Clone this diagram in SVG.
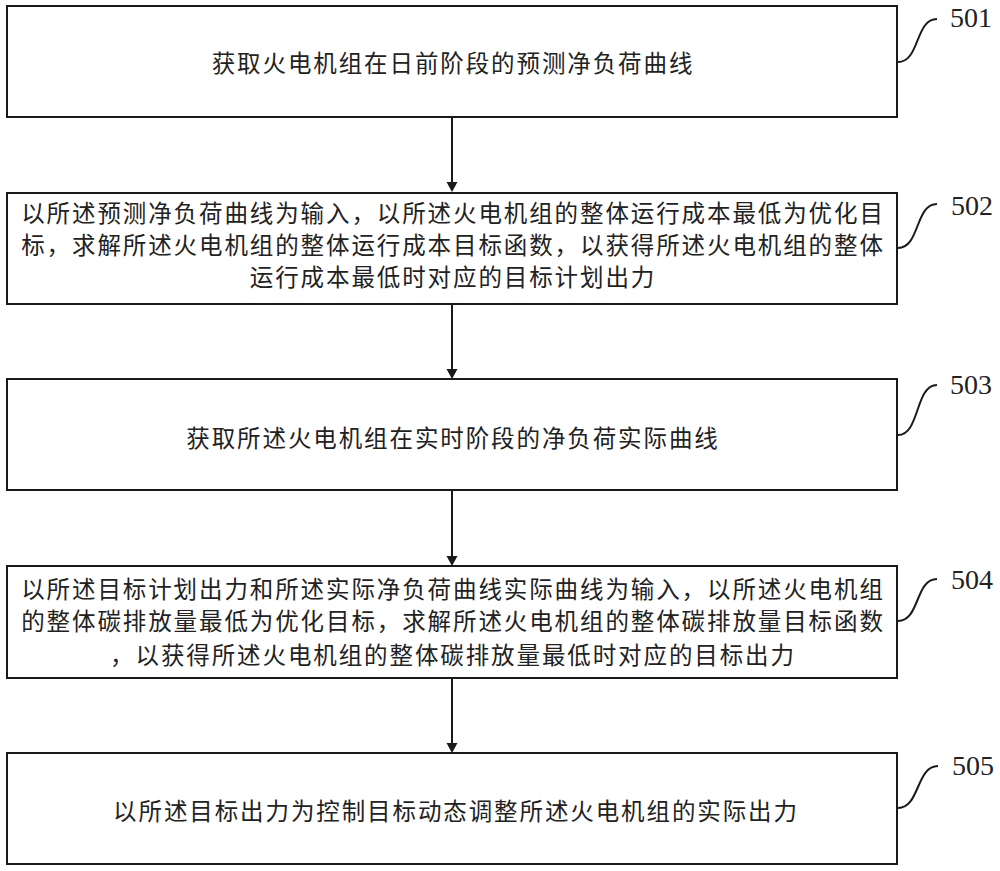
<svg xmlns="http://www.w3.org/2000/svg" width="1000" height="871" viewBox="0 0 1000 871">
<style>
.box{fill:#fff;stroke:#1a1a1a;stroke-width:2}
.t{font-family:"Noto Sans CJK SC","Noto Sans CJK JP",sans-serif;font-size:23.5px;letter-spacing:1.9px;fill:#222;text-anchor:middle;dominant-baseline:central}
.lbl{font-family:"Liberation Serif",serif;font-size:28px;fill:#222}
.lead{fill:none;stroke:#1a1a1a;stroke-width:2}
.conn{stroke:#1a1a1a;stroke-width:2;fill:none}
.head{fill:#1a1a1a}
</style>
<rect width="1000" height="871" fill="#fff"/>
<g id="connectors">
<line class="conn" x1="452" y1="117" x2="452" y2="183"/>
<path class="head" d="M446.5,182 L457.5,182 L452,192 Z"/>
<line class="conn" x1="452" y1="304" x2="452" y2="370"/>
<path class="head" d="M446.5,369 L457.5,369 L452,379 Z"/>
<line class="conn" x1="452" y1="490" x2="452" y2="557"/>
<path class="head" d="M446.5,556 L457.5,556 L452,566 Z"/>
<line class="conn" x1="452" y1="678" x2="452" y2="744"/>
<path class="head" d="M446.5,743 L457.5,743 L452,753 Z"/>
</g>
<g id="node501">
<rect class="box" x="7" y="6" width="890" height="111"/>
<text class="t" x="453" y="62">获取火电机组在日前阶段的预测净负荷曲线</text>
<path class="lead" d="M898,62 C920,62 915,19 937,19"/>
<text class="lbl" x="950" y="27">501</text>
</g>
<g id="node502">
<rect class="box" x="7" y="193" width="890" height="111"/>
<text class="t" x="453" y="212">以所述预测净负荷曲线为输入，以所述火电机组的整体运行成本最低为优化目</text>
<text class="t" x="453" y="244">标，求解所述火电机组的整体运行成本目标函数，以获得所述火电机组的整体</text>
<text class="t" x="453" y="276">运行成本最低时对应的目标计划出力</text>
<path class="lead" d="M898,248 C920,248 915,204 937,204"/>
<text class="lbl" x="951" y="215">502</text>
</g>
<g id="node503">
<rect class="box" x="7" y="379" width="890" height="111"/>
<text class="t" x="453" y="437">获取所述火电机组在实时阶段的净负荷实际曲线</text>
<path class="lead" d="M898,435 C920,435 915,385 937,385"/>
<text class="lbl" x="950" y="394">503</text>
</g>
<g id="node504">
<rect class="box" x="7" y="566" width="890" height="112"/>
<text class="t" x="453" y="588">以所述目标计划出力和所述实际净负荷曲线实际曲线为输入，以所述火电机组</text>
<text class="t" x="453" y="620">的整体碳排放量最低为优化目标，求解所述火电机组的整体碳排放量目标函数</text>
<text class="t" x="453" y="654">，以获得所述火电机组的整体碳排放量最低时对应的目标出力</text>
<path class="lead" d="M898,621 C920,621 915,579 937,579"/>
<text class="lbl" x="951" y="589">504</text>
</g>
<g id="node505">
<rect class="box" x="7" y="753" width="890" height="111"/>
<text class="t" x="456" y="810">以所述目标出力为控制目标动态调整所述火电机组的实际出力</text>
<path class="lead" d="M898,808 C920,808 916,766 938,766"/>
<text class="lbl" x="952" y="775">505</text>
</g>
</svg>
